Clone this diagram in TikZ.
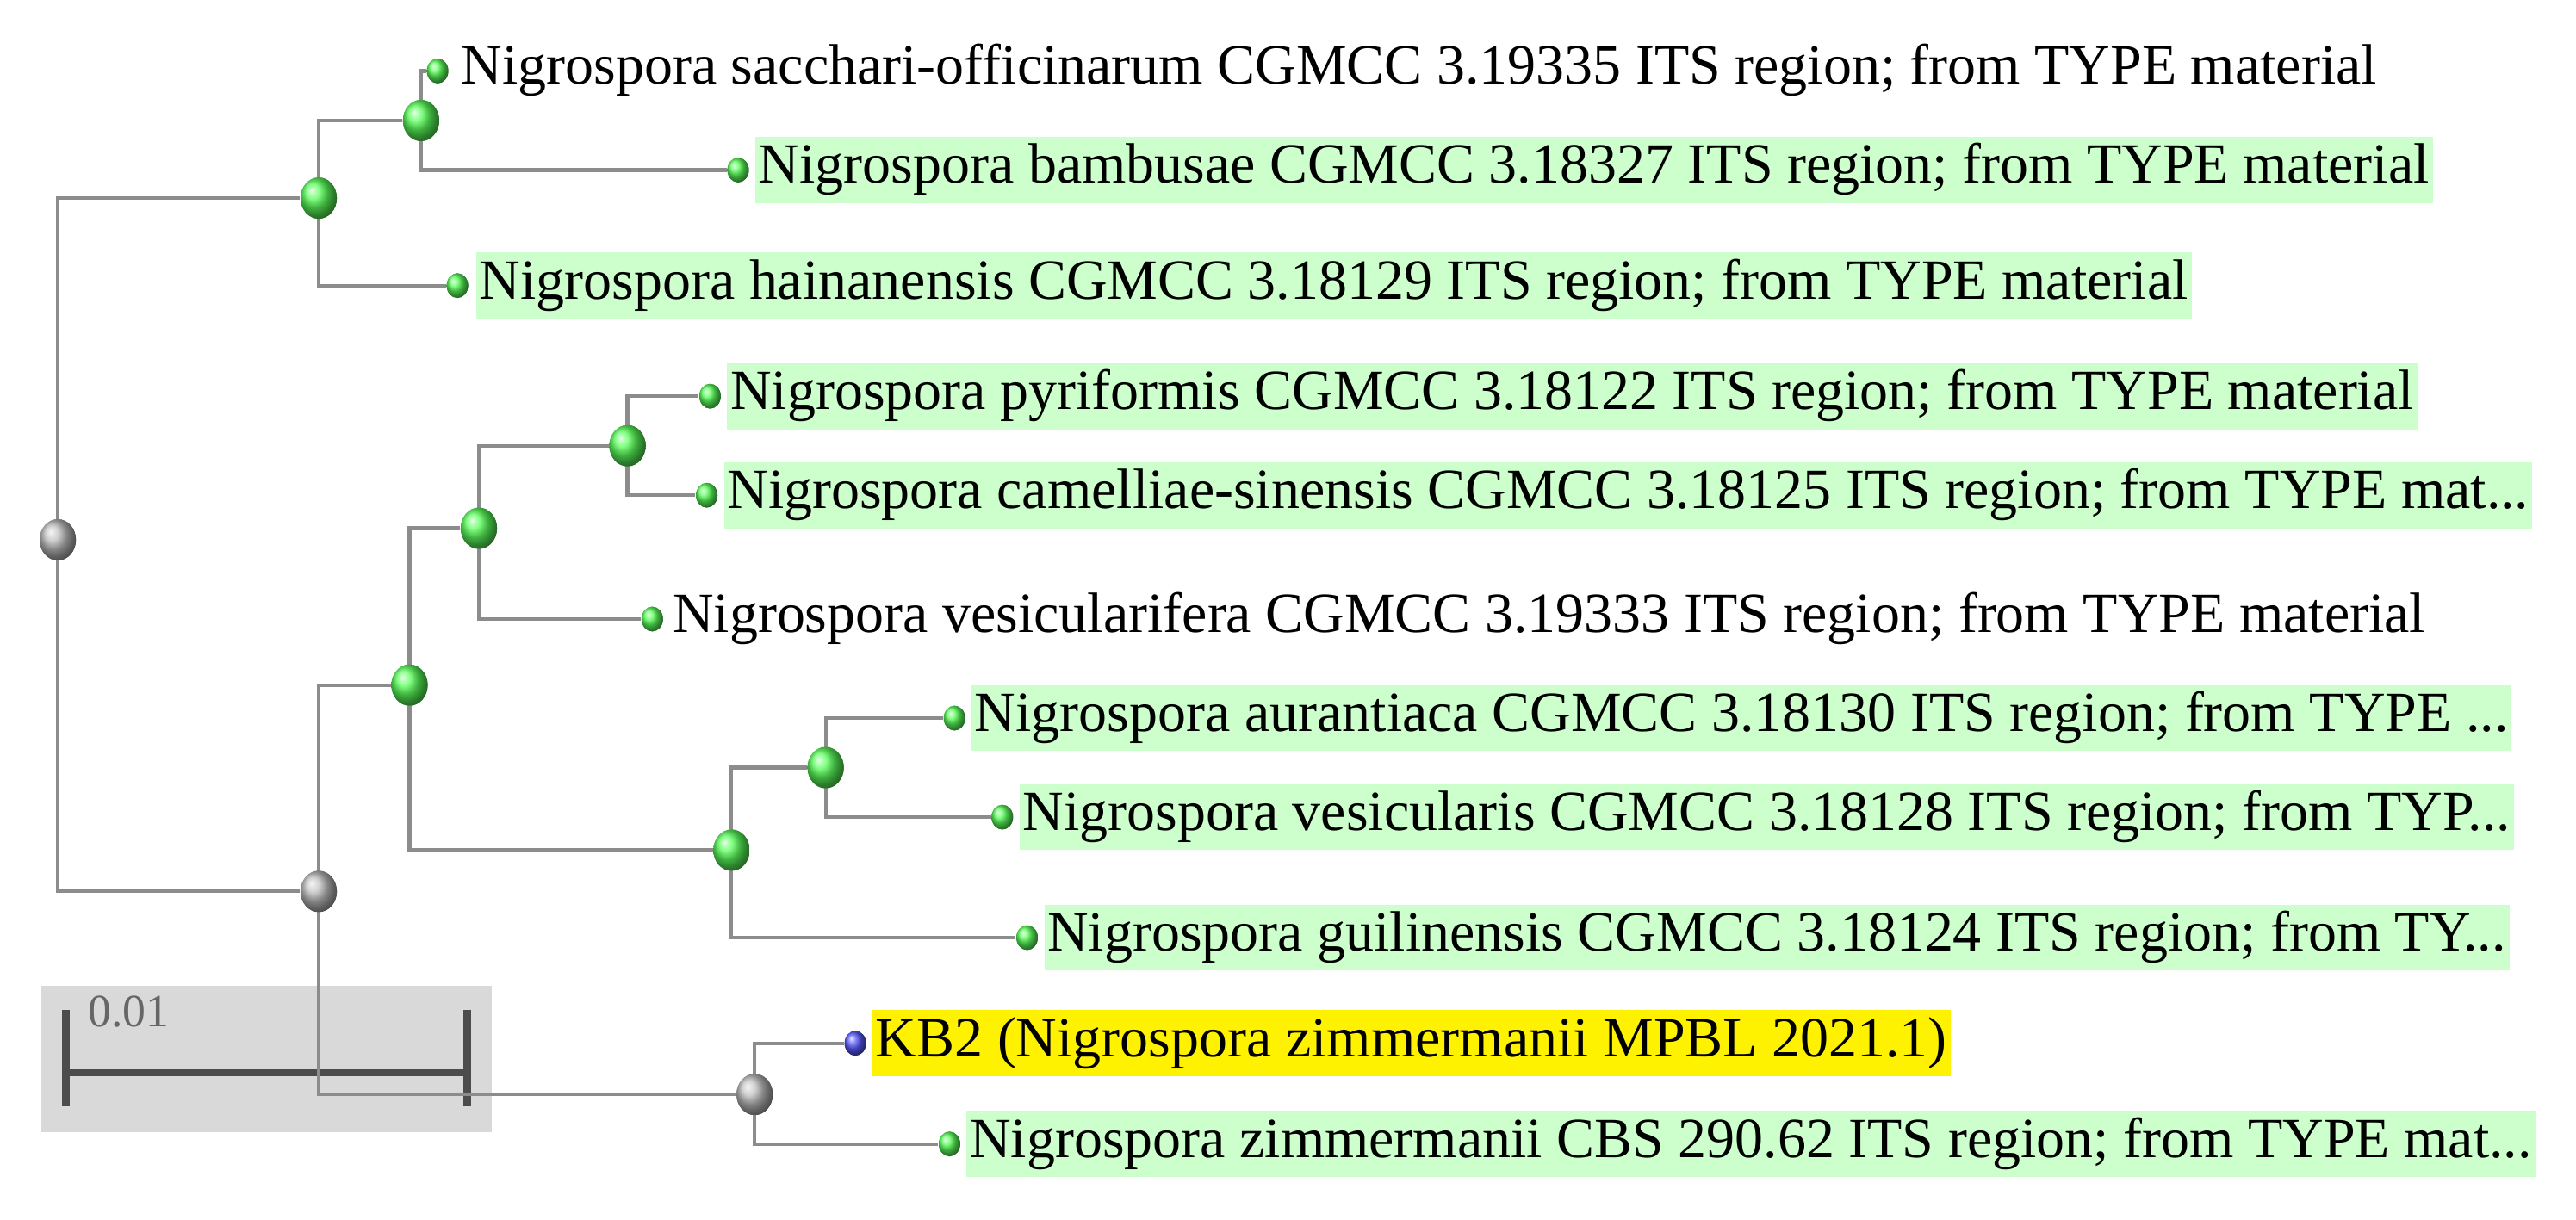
\documentclass[tikz,border=0pt]{standalone}
\usepackage{fontspec}
\setmainfont{Liberation Serif}
\colorlet{gball}{green!65!white}
\tikzset{
 br/.style={draw=black!45,line width=1.1pt},
 inn/.style={ellipse,inner sep=0pt,minimum width=11pt,minimum height=12.5pt,ball color=gball,shading=ball},
 gin/.style={ellipse,inner sep=0pt,minimum width=11pt,minimum height=12.5pt,ball color=black!25,shading=ball},
 lf/.style={ellipse,inner sep=0pt,minimum width=6.5pt,minimum height=7.5pt,ball color=gball,shading=ball},
 lb/.style={ellipse,inner sep=0pt,minimum width=6.5pt,minimum height=7.5pt,ball color=blue!65!white,shading=ball},
 lab/.style={anchor=west,inner sep=1pt,text height=13pt,text depth=5pt,font=\fontsize{17.2}{19}\selectfont},
 gl/.style={lab,fill=green!20!white},
}
\usetikzlibrary{shapes.geometric}
\begin{document}
\begin{tikzpicture}[x=0.5pt,y=-0.5pt]
\useasboundingbox (0,0) rectangle (1560,739);
% scale bar
\fill[black!15] (25,597) rectangle (298,686);
\coordinate (s1) at (40,650); \coordinate (s2) at (283,650);
\draw[black!70,line width=2.2pt] (40,612) -- (40,670) (283,612) -- (283,670) (s1) -- (s2);
\node[anchor=west,text=black!60,font=\fontsize{14}{16}\selectfont,inner sep=0pt] (sl) at (53,613) {0.01};
% nodes
\node[gin] (r) at (35,327) {};
\node[inn] (a) at (193,120) {};
\node[inn] (a1) at (255,73) {};
\node[lf] (l1) at (265,43) {};
\node[lf] (l2) at (447,103) {};
\node[lf] (l3) at (277,173) {};
\node[gin] (b) at (193,540) {};
\node[inn] (c) at (248,415) {};
\node[inn] (c1) at (290,320) {};
\node[inn] (c2) at (380,270) {};
\node[lf] (l4) at (430,240) {};
\node[lf] (l5) at (428,300) {};
\node[lf] (l6) at (395,375) {};
\node[inn] (d) at (443,515) {};
\node[inn] (d1) at (500,465) {};
\node[lf] (l7) at (578,435) {};
\node[lf] (l8) at (607,495) {};
\node[lf] (l9) at (622,568) {};
\node[gin] (e) at (457,663) {};
\node[lb] (l10) at (518,632) {};
\node[lf] (l11) at (575,693) {};
% branches
\draw[br] (a) -| (r.center) |- (b);
\draw[br] (a1) -| (a.center) |- (l3);
\draw[br] (l1) -| (a1.center) |- (l2);
\draw[br] (c) -| (b.center) |- (e);
\draw[br] (c1) -| (c.center) |- (d);
\draw[br] (c2) -| (c1.center) |- (l6);
\draw[br] (l4) -| (c2.center) |- (l5);
\draw[br] (d1) -| (d.center) |- (l9);
\draw[br] (l7) -| (d1.center) |- (l8);
\draw[br] (l10) -| (e.center) |- (l11);
% redraw balls on top
\foreach \n/\s in {r/gin,a/inn,a1/inn,b/gin,c/inn,c1/inn,c2/inn,d/inn,d1/inn,e/gin}
  \node[\s] at (\n) {};
\foreach \n in {l1,l2,l3,l4,l5,l6,l7,l8,l9,l11}
  \node[lf] at (\n) {};
\node[lb] at (l10) {};
% labels
\node[lab] (t1) at (277,43) {Nigrospora sacchari-officinarum CGMCC 3.19335 ITS region; from TYPE material};
\node[gl] (t2) at (457,103) {Nigrospora bambusae CGMCC 3.18327 ITS region; from TYPE material};
\node[gl] (t3) at (288,173) {Nigrospora hainanensis CGMCC 3.18129 ITS region; from TYPE material};
\node[gl] (t4) at (440,240) {Nigrospora pyriformis CGMCC 3.18122 ITS region; from TYPE material};
\node[gl] (t5) at (438,300) {Nigrospora camelliae-sinensis CGMCC 3.18125 ITS region; from TYPE mat...};
\node[lab] (t6) at (405,375) {Nigrospora vesicularifera CGMCC 3.19333 ITS region; from TYPE material};
\node[gl] (t7) at (588,435) {Nigrospora aurantiaca CGMCC 3.18130 ITS region; from TYPE ...};
\node[gl] (t8) at (617,495) {Nigrospora vesicularis CGMCC 3.18128 ITS region; from TYP...};
\node[gl] (t9) at (632,568) {Nigrospora guilinensis CGMCC 3.18124 ITS region; from TY...};
\node[lab,fill=yellow] (t10) at (528,632) {KB2 (Nigrospora zimmermanii MPBL 2021.1)};
\node[gl] (t11) at (585,693) {Nigrospora zimmermanii CBS 290.62 ITS region; from TYPE mat...};
\end{tikzpicture}
\end{document}
